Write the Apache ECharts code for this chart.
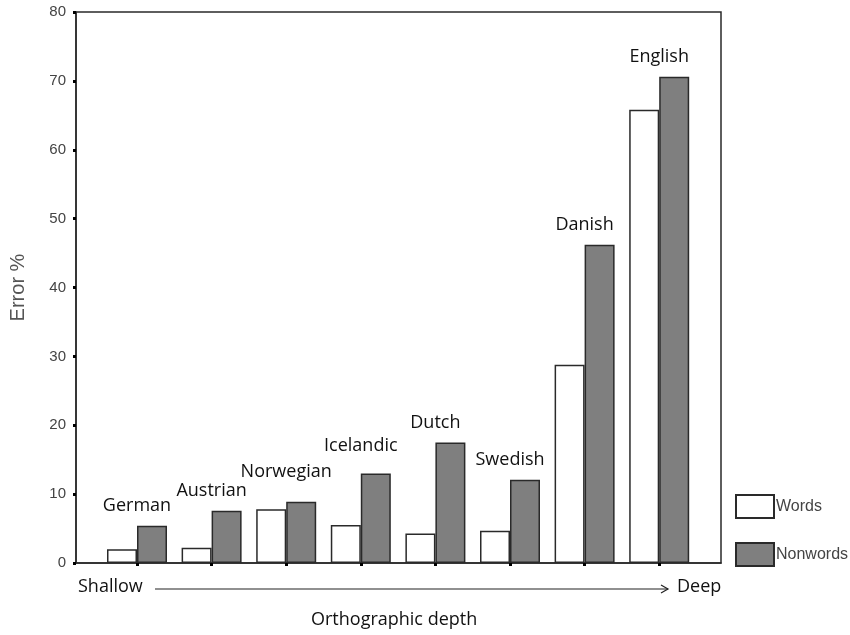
<!DOCTYPE html>
<html>
<head>
<meta charset="utf-8">
<script src="https://cdn.jsdelivr.net/npm/echarts@6/dist/echarts.min.js"></script>
<style>
  html, body { margin: 0; padding: 0; background: #fff; }
  #chart { width: 850px; height: 635px; }
</style>
</head>
<body>
<div id="chart"></div>
<script>
const languages = ['German', 'Austrian', 'Norwegian', 'Icelandic', 'Dutch', 'Swedish', 'Danish', 'English']
const words = [2.0, 2.2, 7.8, 5.5, 4.3, 4.7, 28.8, 65.8]
const nonwords = [5.4, 7.6, 8.9, 13.0, 17.5, 12.1, 46.2, 70.6]
const yTicks = [0, 10, 20, 30, 40, 50, 60, 70, 80]

// extra lift for a few labels so they clear the bars like the original
const labelLift = [0, 0, 10, 8, 0, 0, 0, 0]

const chart = echarts.init(document.getElementById('chart'))

const barBorder = '#2a2a2a'

chart.setOption({
  animation: false,
  grid: [{
    left: 73,
    top: 12,
    width: 648,
    height: 551,
    show: true,
    borderColor: barBorder,
    borderWidth: 1.5
  }, {
    left: 99.7,
    top: 12,
    width: 596.8,
    height: 551
  }],
  xAxis: [{
    gridIndex: 0,
    type: 'value',
    min: 0,
    max: 1,
    axisLine: { show: true, onZero: false, lineStyle: { color: barBorder, width: 1.5 } },
    axisTick: { show: false },
    axisLabel: { show: false },
    splitLine: { show: false }
  }, {
    gridIndex: 1,
    type: 'category',
    data: languages,
    axisLine: { show: false },
    axisTick: {
      show: true,
      alignWithLabel: true,
      length: 3,
      lineStyle: { color: '#000', width: 3 }
    },
    axisLabel: { show: false }
  }],
  yAxis: [{
    gridIndex: 0,
    type: 'value',
    min: yTicks[0],
    max: yTicks[yTicks.length - 1],
    interval: 10,
    name: 'Error %',
    nameLocation: 'middle',
    nameGap: 48,
    nameTextStyle: { color: '#555', fontSize: 20, fontFamily: 'Liberation Sans' },
    axisLine: { show: true, lineStyle: { color: barBorder, width: 1.5 } },
    axisTick: { show: true, length: 3, lineStyle: { color: '#000', width: 3 } },
    axisLabel: {
      color: '#444',
      fontSize: 15,
      fontFamily: 'Liberation Sans',
      margin: 10
    },
    splitLine: { show: false }
  }, {
    gridIndex: 1,
    type: 'value',
    min: yTicks[0],
    max: yTicks[yTicks.length - 1],
    show: false
  }],
  legend: {
    orient: 'vertical',
    left: 735,
    top: 494,
    padding: 0,
    itemWidth: 38,
    itemHeight: 23,
    itemGap: 23,
    icon: 'rect',
    textStyle: { color: '#444', fontSize: 16, fontFamily: 'Liberation Sans', padding: [5, 0, 0, -3] },
    data: ['Words', 'Nonwords']
  },
  series: [{
    name: 'Words',
    type: 'bar',
    xAxisIndex: 1,
    yAxisIndex: 1,
    data: words,
    barWidth: 30,
    barGap: '0%',
    itemStyle: { color: '#fff', borderColor: barBorder, borderWidth: 1.5 }
  }, {
    name: 'Nonwords',
    type: 'bar',
    xAxisIndex: 1,
    yAxisIndex: 1,
    data: nonwords.map((v, i) => ({
      value: v,
      label: { distance: 11 + labelLift[i] }
    })),
    barWidth: 30,
    barGap: '0%',
    itemStyle: { color: '#7f7f7f', borderColor: barBorder, borderWidth: 1.5 },
    label: {
      show: true,
      position: 'top',
      offset: [-15, 0],
      color: '#111',
      fontSize: 18,
      fontFamily: 'Open Sans',
      formatter: p => languages[p.dataIndex]
    }
  }],
  graphic: [{
    type: 'text',
    left: 78,
    top: 578,
    style: { text: 'Shallow', fill: '#111', font: '18px "Open Sans"' }
  }, {
    type: 'line',
    shape: { x1: 155, y1: 589, x2: 668, y2: 589 },
    style: { stroke: '#222', lineWidth: 1.2 }
  }, {
    type: 'polyline',
    shape: { points: [[661, 585], [668, 589], [661, 593]] },
    style: { stroke: '#222', lineWidth: 1.2, fill: null }
  }, {
    type: 'text',
    left: 677,
    top: 578,
    style: { text: 'Deep', fill: '#111', font: '18px "Open Sans"' }
  }, {
    type: 'text',
    left: 311,
    top: 611,
    style: { text: 'Orthographic depth', fill: '#111', font: '18px "Open Sans"' }
  }]
})
</script>
</body>
</html>
